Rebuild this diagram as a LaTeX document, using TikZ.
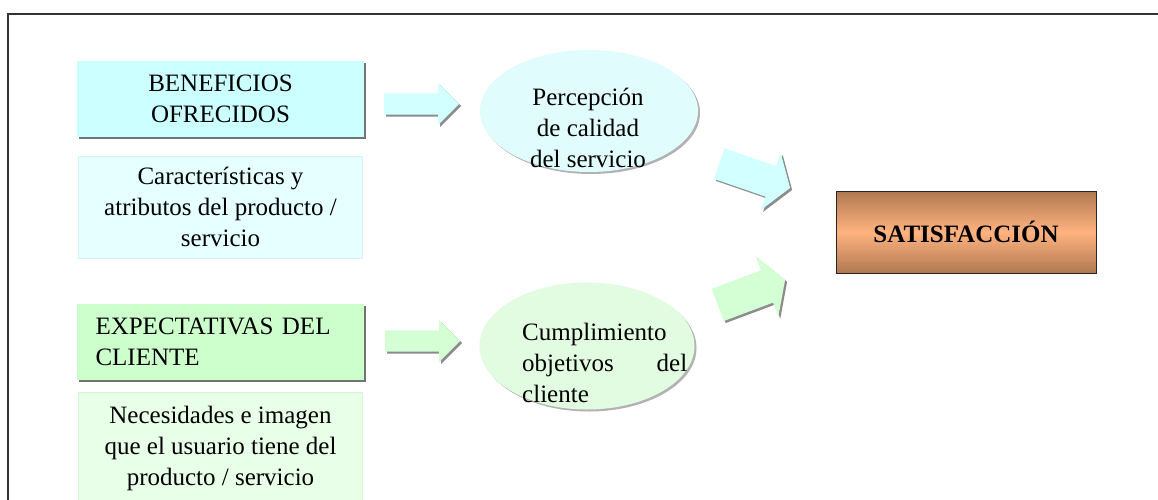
\documentclass[tikz,border=0pt]{standalone}
\usepackage{fontspec}
\setmainfont{Liberation Serif}
\usetikzlibrary{positioning}
\usetikzlibrary{shapes.geometric}
\usetikzlibrary{shapes.arrows}
\usetikzlibrary{shadows}

\definecolor{benblue}{HTML}{CCFFFF}
\definecolor{carblue}{HTML}{E6FFFF}
\definecolor{carline}{HTML}{D2F6F6}
\definecolor{expgreen}{HTML}{CCFFCC}
\definecolor{necgreen}{HTML}{E8FFE8}
\definecolor{necline}{HTML}{D6F6D6}
\definecolor{percblue}{HTML}{E0FCFC}
\definecolor{cumpgreen}{HTML}{E2FCE2}
\definecolor{arrblue}{HTML}{D2FFFF}
\definecolor{arrgreen}{HTML}{D4FFD4}
\definecolor{satdark}{HTML}{B07850}
\definecolor{satlight}{HTML}{FFB380}

\tikzset{
	softshadow/.style = {drop shadow = {shadow xshift = 2pt, shadow yshift = -2pt, fill = black!#1, opacity = 1}},
	mainbox/.style = {rectangle, minimum width = 287pt, minimum height = 76pt, inner sep = 0pt, softshadow = 55},
	softbox/.style = {rectangle, minimum width = 284pt, inner sep = 0pt, align = center},
	oval/.style = {ellipse, inner sep = 0pt, softshadow = 30},
	harrow/.style = {single arrow, anchor = tail, minimum height = 75pt, minimum width = 42pt, inner xsep = 0pt, inner ysep = 10.5pt, single arrow head extend = 10.5pt, softshadow = 45}
}

\begin{document}
\begin{tikzpicture}[x = 1pt, y = -1pt, font = \fontsize{25}{31}\selectfont]
	\useasboundingbox (0, 0) rectangle (1158, 500);
	\clip (0, 0) rectangle (1158, 500);
	\fill [white] (0, 0) rectangle (1158, 500);
	\draw [black!80, line width = 1.2pt] (8, 500) -- (8, 14) -- (1158, 14);

	\node [mainbox, fill = benblue, align = center] (ben) at (220.5, 99) {BENEFICIOS\\OFRECIDOS};
	\node [softbox, fill = carblue, draw = carline, minimum height = 102pt, below = 19pt of ben] (car) {Características y\\atributos del producto /\\servicio};
	\node [mainbox, fill = expgreen, text width = 250pt, align = left] (exp) at (220.5, 341.5) {EXPECTATIVAS DEL\\CLIENTE};
	\node [softbox, fill = necgreen, draw = necline, minimum height = 114pt, below = 12pt of exp] (nec) {Necesidades e imagen\\que el usuario tiene del\\producto / servicio};

	\node [oval, fill = percblue, minimum width = 218pt, minimum height = 122pt] (perc) at (589, 111) {};
	\node [inner sep = 0pt, align = center, anchor = north] (perctext) at (588, 88) {Percepción\\de calidad\\del servicio};
	\node [oval, fill = cumpgreen, minimum width = 215pt, minimum height = 127pt] (cump) at (587, 346) {};
	\node [inner sep = 0pt, text width = 165pt, align = left, anchor = north west] (cumptext) at (522, 323) {Cumplimiento\\objetivos\hfill del\\cliente};

	\node [rectangle, draw = black!85, line width = 0.8pt, minimum width = 260pt, minimum height = 82pt, top color = satdark, bottom color = satdark, middle color = satlight, font = \fontsize{25}{31}\selectfont\bfseries] (sat) at (966, 232) {SATISFACCIÓN};

	\node [harrow, fill = arrblue] (arrBP) at (384, 104) {};
	\node [harrow, fill = arrgreen] (arrEC) at (385, 341) {};
	\node [harrow, fill = arrblue, rotate = -19, minimum width = 60pt, inner ysep = 16pt, single arrow head extend = 14pt, single arrow tip angle = 112] (arrPS) at (719, 163.5) {};
	\node [harrow, fill = arrgreen, rotate = 20.5, minimum height = 72pt, minimum width = 64pt, inner ysep = 17pt, single arrow head extend = 15pt, single arrow tip angle = 118] (arrCS) at (717.5, 305) {};
\end{tikzpicture}
\end{document}
